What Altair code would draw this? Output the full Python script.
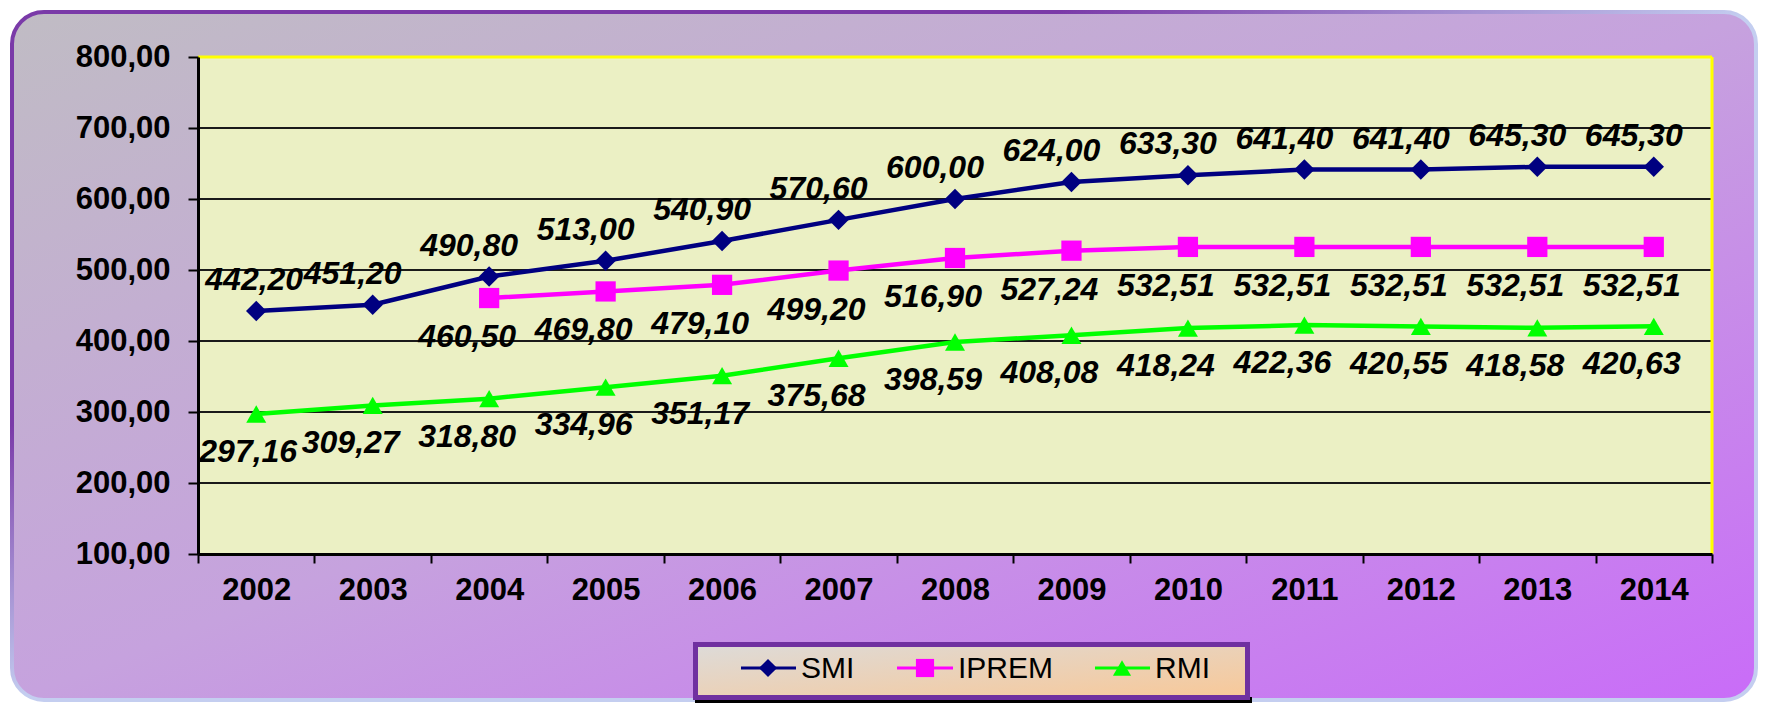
import altair as alt
import pandas as pd

# ---- data ----
years = ["2002", "2003", "2004", "2005", "2006", "2007", "2008",
         "2009", "2010", "2011", "2012", "2013", "2014"]
series_names = ["SMI", "IPREM", "RMI"]
smi = [442.20, 451.20, 490.80, 513.00, 540.90, 570.60, 600.00,
       624.00, 633.30, 641.40, 641.40, 645.30, 645.30]
iprem = [None, None, 460.50, 469.80, 479.10, 499.20, 516.90,
         527.24, 532.51, 532.51, 532.51, 532.51, 532.51]
rmi = [297.16, 309.27, 318.80, 334.96, 351.17, 375.68, 398.59,
       408.08, 418.24, 422.36, 420.55, 418.58, 420.63]
y_ticks = [100, 200, 300, 400, 500, 600, 700, 800]

# ---- styles ----
colors = ["#000080", "#ff00ff", "#00ff00"]
shapes = ["diamond", "square", "triangle-up"]
FONT = "Liberation Sans"
W, H = 1514, 497
PAD = {"left": 190, "top": 49, "right": 46, "bottom": 149}

rows = []
for name, vals in zip(series_names, [smi, iprem, rmi]):
    for yr, v in zip(years, vals):
        if v is not None:
            rows.append({"year": yr, "series": name, "value": v})
df = pd.DataFrame(rows)
one = pd.DataFrame({"k": [0]})

xscale = alt.Scale(type="band", domain=years, paddingInner=0, paddingOuter=0)
yscale = alt.Scale(domain=[y_ticks[0], y_ticks[-1]], nice=False, zero=False)

x_axis = alt.Axis(title=None, grid=False, domainColor="#000000", domainWidth=3,
                  tickColor="#000000", tickWidth=2, tickSize=9, tickBand="extent",
                  labelFont=FONT, labelFontSize=31, labelFontWeight="bold",
                  labelColor="#000000", labelPadding=12, labelAngle=0, zindex=1)
y_axis = alt.Axis(title=None, grid=False, values=y_ticks, domainColor="#000000",
                  domainWidth=3, tickColor="#000000", tickWidth=2, tickSize=10,
                  labelFont=FONT, labelFontSize=31, labelFontWeight="bold",
                  labelColor="#000000", labelPadding=18, zindex=1,
                  labelExpr="replace(format(datum.value, '.2f'), '.', ',')")

X = alt.X("year:N", scale=xscale, axis=x_axis, bandPosition=0.5)
Y = alt.Y("value:Q", scale=yscale, axis=y_axis)

col = alt.Color("series:N", scale=alt.Scale(domain=series_names, range=colors), legend=None)

bg_fill = alt.Gradient(gradient="linear", x1=0, y1=0, x2=1, y2=1, stops=[
    alt.GradientStop(color="#c0bcc4", offset=0),
    alt.GradientStop(color="#c6a2de", offset=0.5),
    alt.GradientStop(color="#c96cf8", offset=1)])
bg_stroke = alt.Gradient(gradient="linear", x1=0, y1=0, x2=1, y2=1, stops=[
    alt.GradientStop(color="#7a3aa8", offset=0),
    alt.GradientStop(color="#7a3aa8", offset=0.3),
    alt.GradientStop(color="#c4cef0", offset=0.5),
    alt.GradientStop(color="#c4cef0", offset=1)])
leg_fill = alt.Gradient(gradient="linear", x1=0, y1=0, x2=1, y2=1, stops=[
    alt.GradientStop(color="#dddbd9", offset=0),
    alt.GradientStop(color="#f8c898", offset=1)])

layers = []
# outer rounded background
layers.append(alt.Chart(one).mark_rect(fill=bg_fill, stroke=bg_stroke, strokeWidth=4,
                                       cornerRadius=32).encode(
    x=alt.value(-186), x2=alt.value(W + 44), y=alt.value(-45), y2=alt.value(H + 146)))
# legend shadow + box
layers.append(alt.Chart(one).mark_rect(fill="#000000").encode(
    x=alt.value(497), x2=alt.value(1054), y=alt.value(640), y2=alt.value(656)))
layers.append(alt.Chart(one).mark_rect(fill=leg_fill, stroke="#7030a0", strokeWidth=5).encode(
    x=alt.value(497.5), x2=alt.value(1049.5), y=alt.value(587.5), y2=alt.value(640.5)))
# plot area
layers.append(alt.Chart(one).mark_rect(fill="#ebf0c4").encode(
    x=alt.value(0), x2=alt.value(W), y=alt.value(0), y2=alt.value(H)))
# gridlines
grid_df = pd.DataFrame({"value": y_ticks[1:-1]})
layers.append(alt.Chart(grid_df).mark_rule(color="#1a1a1a", strokeWidth=2).encode(y=Y))
layers.append(alt.Chart(one).mark_rule(color="#ffff00", strokeWidth=3).encode(
    x=alt.value(0), x2=alt.value(W), y=alt.value(0)))
layers.append(alt.Chart(one).mark_rule(color="#ffff00", strokeWidth=3).encode(
    x=alt.value(W), y=alt.value(0), y2=alt.value(H)))
# lines
layers.append(alt.Chart(df).mark_line().encode(
    x=X, y=Y, color=col,
    strokeWidth=alt.StrokeWidth("series:N", scale=alt.Scale(domain=series_names,
                                                             range=[4.5, 4.5, 5.5]),
                                legend=None)))
# markers
layers.append(alt.Chart(df).mark_point(filled=True, opacity=1).encode(
    x=X, y=Y, color=col,
    shape=alt.Shape("series:N", scale=alt.Scale(domain=series_names, range=shapes), legend=None),
    size=alt.Size("series:N", scale=alt.Scale(domain=series_names, range=[420, 400, 500]),
                  legend=None)))

# data labels
offsets = {"SMI": (-20, -31, -2), "IPREM": (-22, 39, -22), "RMI": (-22, 38, -8)}
for name in series_names:
    dx, dy, dx_first = offsets[name]
    for first in (True, False):
        test = f"datum.series === '{name}' && " + (
            f"datum.year === '{years[0]}'" if first else f"datum.year !== '{years[0]}'")
        layers.append(alt.Chart(df).transform_filter(test).transform_calculate(
            label="replace(format(datum.value, '.2f'), '.', ',')"
        ).mark_text(font=FONT, fontSize=32, fontWeight="bold", fontStyle="italic",
                    color="#000000", align="center", baseline="middle",
                    dx=dx_first if first else dx, dy=dy).encode(
            x=X, y=Y, text="label:N"))

# legend items (layout positions)
leg_pos = {"SMI": (543, 598, 570, 603), "IPREM": (699, 755, 727, 760),
           "RMI": (897, 952, 924, 957)}
LY = 611
for name, c, s in zip(series_names, colors, shapes):
    x0, x1, xm, xt = leg_pos[name]
    layers.append(alt.Chart(one).mark_rule(color=c, strokeWidth=3).encode(
        x=alt.value(x0), x2=alt.value(x1), y=alt.value(LY)))
    layers.append(alt.Chart(one).mark_point(filled=True, opacity=1, color=c, shape=s,
                                            size=330).encode(
        x=alt.value(xm), y=alt.value(LY)))
    layers.append(alt.Chart(one).mark_text(text=name, font=FONT, fontSize=30, color="#000000",
                                           align="left", baseline="middle").encode(
        x=alt.value(xt), y=alt.value(LY + 1)))

chart = alt.layer(*layers).properties(
    width=W, height=H, padding=PAD, background="white",
    autosize=alt.AutoSizeParams(type="none")
).configure_view(stroke=None)

chart.save("out.html", embed_options={"renderer": "svg", "actions": False})
